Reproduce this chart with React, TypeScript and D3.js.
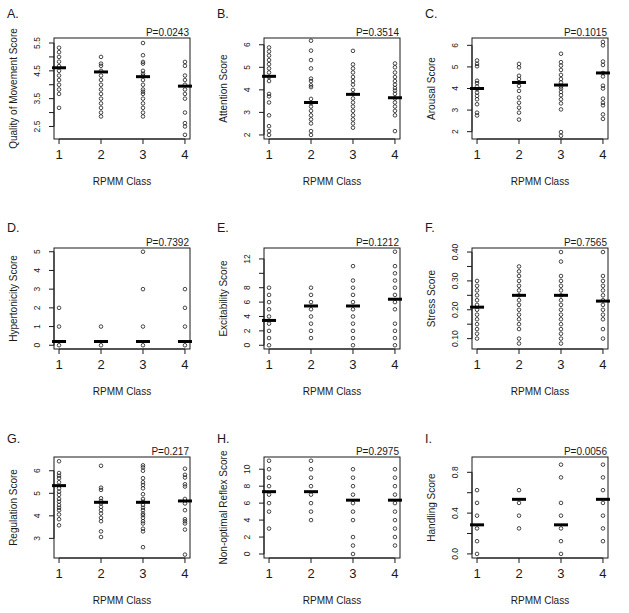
import React from "react";
import * as d3 from "d3";

const classes = [1, 2, 3, 4];
const panelLetters = ["A.", "B.", "C.", "D.", "E.", "F.", "G.", "H.", "I."];
const yTitles = [
  "Quality of Movement Score",
  "Attention Score",
  "Arousal Score",
  "Hypertonicity Score",
  "Excitability Score",
  "Stress Score",
  "Regulation Score",
  "Non-optimal Reflex Score",
  "Handling Score",
];
const pValues = ["P=0.0243", "P=0.3514", "P=0.1015", "P=0.7392", "P=0.1212", "P=0.7565", "P=0.217", "P=0.2975", "P=0.0056"];
const xTitle = "RPMM Class";

// Panel A - Quality of Movement
const aValues = [
  [5.33, 5.17, 5.0, 4.83, 4.67, 4.5, 4.33, 4.17, 4.0, 3.83, 3.67, 3.17],
  [5.0, 4.76, 4.68, 4.5, 4.33, 4.17, 4.0, 3.83, 3.67, 3.5, 3.33, 3.17, 3.0, 2.86],
  [5.5, 5.06, 4.82, 4.76, 4.5, 4.4, 4.33, 4.17, 4.0, 3.83, 3.75, 3.67, 3.5, 3.33, 3.17, 3.0, 2.86],
  [4.82, 4.68, 4.33, 4.17, 4.0, 3.83, 3.67, 3.5, 3.0, 2.62, 2.5, 2.2],
];
const aCenters = [4.61, 4.46, 4.29, 3.95];
const aTicks = [2.5, 3.0, 3.5, 4.0, 4.5, 5.0, 5.5];
const aTickLabels = ["2.5", "", "3.5", "", "4.5", "", "5.5"];

// Panel B - Attention
const bValues = [
  [5.88, 5.7, 5.52, 5.32, 5.14, 4.95, 4.77, 4.57, 4.39, 3.82, 3.71, 3.44, 2.87, 2.39, 2.17, 2.0],
  [6.18, 5.74, 5.32, 4.95, 4.5, 4.39, 4.2, 4.12, 3.6, 3.41, 3.26, 3.07, 2.87, 2.69, 2.51, 2.17, 2.0],
  [5.73, 5.13, 4.95, 4.77, 4.57, 4.39, 4.23, 4.0, 3.82, 3.62, 3.44, 3.26, 3.07, 2.87, 2.69, 2.51, 2.32],
  [5.17, 5.0, 4.77, 4.57, 4.39, 4.23, 4.08, 3.97, 3.82, 3.62, 3.44, 3.26, 3.07, 2.87, 2.17],
];
const bCenters = [4.6, 3.44, 3.8, 3.65];
const bTicks = [2, 3, 4, 5, 6];
const bTickLabels = ["2", "3", "4", "5", "6"];

// Panel C - Arousal
const cValues = [
  [5.3, 5.14, 5.03, 4.36, 4.25, 4.09, 3.97, 3.81, 3.66, 3.5, 3.27, 2.88, 2.75],
  [5.14, 4.98, 4.59, 4.44, 4.28, 4.12, 3.89, 3.58, 3.34, 3.11, 2.88, 2.56],
  [5.61, 5.22, 5.06, 4.86, 4.63, 4.44, 4.28, 4.09, 4.0, 3.84, 3.69, 3.5, 3.31, 3.03, 1.98, 1.81],
  [6.16, 6.0, 5.25, 5.09, 4.72, 4.56, 4.13, 4.0, 3.53, 3.34, 3.22, 2.8, 2.59],
];
const cCenters = [4.0, 4.28, 4.16, 4.72];
const cTicks = [2, 3, 4, 5, 6];
const cTickLabels = ["2", "3", "4", "5", "6"];

// Panel D - Hypertonicity
const dValues = [
  [0, 1, 2],
  [0, 1],
  [0, 1, 3, 5],
  [0, 1, 2, 3],
];
const dCenters = [0.2, 0.2, 0.2, 0.2];
const dTicks = [0, 1, 2, 3, 4, 5];
const dTickLabels = ["0", "1", "2", "3", "4", "5"];

// Panel E - Excitability
const eValues = [
  [0, 1, 2, 3, 4, 5, 6, 7, 8],
  [1, 2, 3, 4, 5, 6, 7, 8],
  [0, 1, 2, 3, 4, 5, 6, 7, 8, 9, 11],
  [0, 1, 2, 3, 5, 6, 7, 8, 9, 10, 11, 13],
];
const eCenters = [3.45, 5.46, 5.46, 6.4];
const eTicks = [0, 2, 4, 6, 8, 10, 12];
const eTickLabels = ["0", "2", "4", "6", "8", "", "12"];

// Panel F - Stress
const fValues = [
  [0.3, 0.283, 0.267, 0.25, 0.233, 0.217, 0.2, 0.183, 0.167, 0.15, 0.133, 0.117, 0.1],
  [0.35, 0.333, 0.317, 0.3, 0.283, 0.267, 0.25, 0.233, 0.217, 0.2, 0.183, 0.167, 0.15, 0.133, 0.1, 0.083],
  [0.4, 0.367, 0.317, 0.3, 0.283, 0.267, 0.25, 0.233, 0.217, 0.2, 0.183, 0.167, 0.15, 0.133, 0.117, 0.1, 0.083],
  [0.4, 0.317, 0.3, 0.283, 0.267, 0.25, 0.233, 0.217, 0.2, 0.183, 0.167, 0.133, 0.1],
];
const fCenters = [0.209, 0.25, 0.25, 0.23];
const fTicks = [0.1, 0.15, 0.2, 0.25, 0.3, 0.35, 0.4];
const fTickLabels = ["0.10", "", "0.20", "", "0.30", "", "0.40"];

// Panel G - Regulation
const gValues = [
  [6.42, 5.9, 5.78, 5.67, 5.49, 5.22, 5.07, 4.93, 4.75, 4.63, 4.48, 4.36, 4.25, 4.06, 3.85, 3.58],
  [6.22, 5.25, 5.15, 4.78, 4.66, 4.55, 4.4, 4.25, 4.1, 3.91, 3.76, 3.31, 3.06],
  [6.24, 6.15, 6.0, 5.67, 5.49, 5.37, 5.22, 4.96, 4.75, 4.63, 4.48, 4.36, 4.25, 4.1, 4.03, 3.91, 3.76, 3.66, 3.43, 3.31, 2.61],
  [6.09, 5.82, 5.7, 5.4, 5.3, 4.75, 4.55, 4.25, 3.85, 3.76, 3.66, 3.39, 2.28],
];
const gCenters = [5.34, 4.6, 4.6, 4.66];
const gTicks = [3, 4, 5, 6];
const gTickLabels = ["3", "4", "5", "6"];

// Panel H - Non-optimal Reflex
const hValues = [
  [11, 10, 9, 8, 7, 6, 5, 3],
  [11, 10, 9, 8, 7, 6, 5, 4],
  [10, 9, 8, 7, 6, 5, 4, 2, 1, 0],
  [10, 9, 8, 7, 6, 5, 4, 3, 2, 1],
];
const hCenters = [7.35, 7.35, 6.35, 6.35];
const hTicks = [0, 2, 4, 6, 8, 10];
const hTickLabels = ["0", "2", "4", "6", "8", "10"];

// Panel I - Handling
const iValues = [
  [0, 0.125, 0.25, 0.375, 0.5, 0.625],
  [0.25, 0.375, 0.5, 0.625],
  [0, 0.125, 0.25, 0.375, 0.5, 0.75, 0.875],
  [0.125, 0.25, 0.375, 0.5, 0.625, 0.75, 0.875],
];
const iCenters = [0.285, 0.535, 0.285, 0.535];
const iTicks = [0, 0.2, 0.4, 0.6, 0.8];
const iTickLabels = ["0.0", "", "0.4", "", "0.8"];

const yDomains = [
  [2.05, 5.68],
  [1.82, 6.3],
  [1.66, 6.34],
  [-0.2, 5.2],
  [-0.52, 13.52],
  [0.064, 0.414],
  [2.13, 6.61],
  [-0.47, 11.44],
  [-0.04, 0.95],
];

const panelValues = [aValues, bValues, cValues, dValues, eValues, fValues, gValues, hValues, iValues];
const panelCenters = [aCenters, bCenters, cCenters, dCenters, eCenters, fCenters, gCenters, hCenters, iCenters];
const panelTicks = [aTicks, bTicks, cTicks, dTicks, eTicks, fTicks, gTicks, hTicks, iTicks];
const panelTickLabels = [aTickLabels, bTickLabels, cTickLabels, dTickLabels, eTickLabels, fTickLabels, gTickLabels, hTickLabels, iTickLabels];

const W = 629;
const H = 613;
const colLeft = [54, 264, 472];
const rowTop = [38, 248, 457];
const letterY = [18, 232, 443];
const boxW = 136;
const boxH = 101;
const FONT = "'Liberation Sans', Arial, sans-serif";
const INK = "#1a1a1a";

function Panel({ idx }: { idx: number }) {
  const col = idx % 3;
  const row = Math.floor(idx / 3);
  const left = colLeft[col];
  const top = rowTop[row];
  const x = d3.scaleLinear().domain([0.88, 4.12]).range([left, left + boxW]);
  const y = d3.scaleLinear().domain(yDomains[idx]).range([top + boxH, top]);
  const ticks = panelTicks[idx];
  const labels = panelTickLabels[idx];
  const values = panelValues[idx];
  const centers = panelCenters[idx];
  const bottom = top + boxH;
  return (
    <g>
      <text x={left - 47} y={letterY[row]} fontSize={12.5} fontFamily={FONT} fill={INK}>
        {panelLetters[idx]}
      </text>
      <text x={left + boxW - 1} y={top - 2} fontSize={10} fontFamily={FONT} textAnchor="end" fill={INK}>
        {pValues[idx]}
      </text>
      <rect x={left} y={top} width={boxW} height={boxH} fill="none" stroke={INK} strokeWidth={1} />
      {/* x axis */}
      <line x1={x(1)} x2={x(4)} y1={bottom} y2={bottom} stroke={INK} strokeWidth={1} />
      {classes.map((c) => (
        <g key={"xt" + c}>
          <line x1={x(c)} x2={x(c)} y1={bottom} y2={bottom + 5} stroke={INK} strokeWidth={1} />
          <text x={x(c)} y={bottom + 20} fontSize={13} fontFamily={FONT} textAnchor="middle" fill={INK}>
            {c}
          </text>
        </g>
      ))}
      <text x={left + boxW / 2} y={bottom + 46} fontSize={10} fontFamily={FONT} textAnchor="middle" fill={INK}>
        {xTitle}
      </text>
      {/* y axis */}
      <line x1={left} x2={left} y1={y(ticks[0])} y2={y(ticks[ticks.length - 1])} stroke={INK} strokeWidth={1} />
      {ticks.map((t, i) => (
        <g key={"yt" + i}>
          <line x1={left - 5} x2={left} y1={y(t)} y2={y(t)} stroke={INK} strokeWidth={1} />
          {labels[i] !== "" && (
            <text
              transform={`translate(${left - 14},${y(t)}) rotate(-90)`}
              fontSize={8.5}
              fontFamily={FONT}
              textAnchor="middle"
              fill={INK}
            >
              {labels[i]}
            </text>
          )}
        </g>
      ))}
      <text
        transform={`translate(${left - 37.5},${top + boxH / 2}) rotate(-90)`}
        fontSize={10}
        fontFamily={FONT}
        textAnchor="middle"
        fill={INK}
      >
        {yTitles[idx]}
      </text>
      {/* points */}
      {values.map((vals, ci) =>
        vals.map((v, j) => (
          <circle key={`p${ci}-${j}`} cx={x(classes[ci])} cy={y(v)} r={1.8} fill="none" stroke={INK} strokeWidth={0.8} />
        ))
      )}
      {/* centre bars */}
      {centers.map((m, ci) => (
        <line
          key={"m" + ci}
          x1={x(classes[ci]) - 7}
          x2={x(classes[ci]) + 7}
          y1={y(m)}
          y2={y(m)}
          stroke="#000"
          strokeWidth={3}
        />
      ))}
    </g>
  );
}

export default function App() {
  return (
    <svg
      width={W}
      height={H}
      style={{ position: "absolute", left: 0, top: 0, background: "#fff" }}
    >
      <rect x={0} y={0} width={W} height={H} fill="#fff" />
      {panelValues.map((_, i) => (
        <Panel key={i} idx={i} />
      ))}
    </svg>
  );
}
